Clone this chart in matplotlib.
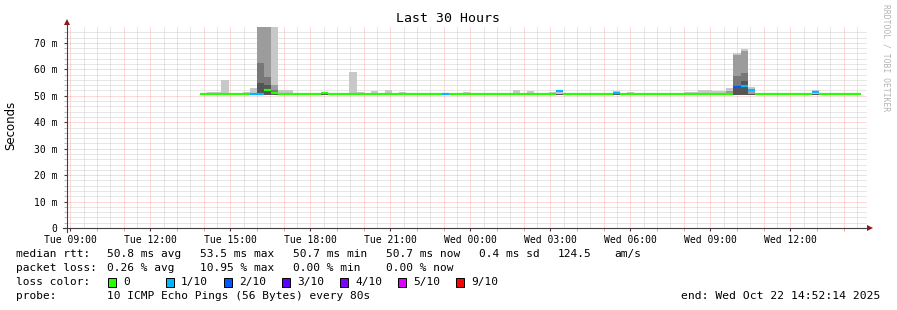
import numpy as np
import matplotlib
matplotlib.use("Agg")
import matplotlib.pyplot as plt

# x axis is hours since the graph start (Tue 08:52:14), 30 h wide
first_hour = 7.77 / 60          # Tue 09:00
bin_start = 4.99                # first consolidated row
bin_width = 16 / 60             # 12 x 80s steps
tick_labels = ["Tue 09:00", "Tue 12:00", "Tue 15:00", "Tue 18:00", "Tue 21:00",
               "Wed 00:00", "Wed 03:00", "Wed 06:00", "Wed 09:00", "Wed 12:00"]

# median rtt per row (ms)
median_rtt = [
    50.7, 50.7, 50.7, 50.7, 50.7, 50.7, 50.7, 50.7, 50.7, 52.3,
    51.2, 50.7, 50.7, 50.7, 50.7, 50.7, 50.7, 51.2, 50.7, 50.7,
    50.7, 50.7, 50.7, 50.7, 50.7, 50.7, 50.7, 50.7, 50.7, 50.7,
    50.7, 50.7, 50.7, 50.7, 50.7, 50.7, 50.7, 50.7, 50.7, 50.7,
    50.7, 50.7, 50.7, 50.7, 50.7, 50.7, 50.7, 50.7, 50.7, 50.7,
    51.9, 50.7, 50.7, 50.7, 50.7, 50.7, 50.7, 50.7, 50.9, 50.7,
    50.7, 50.7, 50.7, 50.7, 50.7, 50.7, 50.7, 50.7, 50.7, 50.7,
    50.7, 50.7, 50.7, 50.7, 50.7, 53.2, 53.8, 52.2, 50.7, 50.7,
    50.7, 50.7, 50.7, 50.7, 50.7, 50.7, 51.6, 50.7, 50.7, 50.7,
    50.7, 50.7, 50.7,
]
# rows with packet loss (tenths lost)
loss_rows = [7, 8, 34, 50, 58, 75, 76, 77, 86]
loss_tenths = [1, 1, 1, 1, 1, 2, 1, 1, 1]

# smoke: rows with spread and their upper ping values (ms)
smoke_rows = [1, 2, 3, 6, 7, 8, 9, 10, 11, 12, 17, 21, 22, 24, 26, 28, 37, 44, 46,
              49, 50, 58, 60, 68, 69, 70, 71, 72, 73, 74, 75, 76, 77, 86]
smoke_p10 = [51.5, 51.6, 56.0, 51.6, 53.0, 80, 80, 80, 52.2, 52.2, 51.4, 59.0, 51.6, 51.8,
             52.0, 51.4, 51.4, 52.2, 51.8, 51.4, 52.3, 51.8, 51.4, 51.4, 51.4, 52.2, 52.2,
             51.8, 51.8, 52.8, 66.3, 67.7, 53.5, 52.0]
smoke_p9 = [50.7, 50.7, 50.7, 50.7, 50.7, 80, 80, 54.0, 50.7, 50.7, 50.7, 50.7, 50.7, 50.7,
            50.7, 50.7, 50.7, 50.7, 50.7, 50.7, 50.7, 50.7, 50.7, 50.7, 50.7, 50.7, 50.7,
            50.7, 50.7, 51.8, 65.5, 67.0, 52.5, 50.7]
smoke_p8 = [50.7, 50.7, 50.7, 50.7, 50.7, 62.4, 57.0, 52.0, 50.7, 50.7, 50.7, 50.7, 50.7, 50.7,
            50.7, 50.7, 50.7, 50.7, 50.7, 50.7, 50.7, 50.7, 50.7, 50.7, 50.7, 50.7, 50.7,
            50.7, 50.7, 50.7, 57.5, 58.6, 50.7, 50.7]
smoke_p7 = [50.7, 50.7, 50.7, 50.7, 50.7, 55.0, 54.0, 50.7, 50.7, 50.7, 50.7, 50.7, 50.7, 50.7,
            50.7, 50.7, 50.7, 50.7, 50.7, 50.7, 50.7, 50.7, 50.7, 50.7, 50.7, 50.7, 50.7,
            50.7, 50.7, 50.7, 53.5, 55.7, 50.7, 50.7]
smoke_floor = 50.4

loss_names = ["0", "1/10", "2/10", "3/10", "4/10", "5/10", "9/10"]
loss_colors = ["#26ff00", "#00b8ff", "#0059ff", "#5e00ff", "#7e00ff", "#dd00ff", "#ff0000"]
smoke_colors = ["#c8c8c8", "#9c9c9c", "#787878", "#555555"]

W, H = 897, 310
MONO = "DejaVu Sans Mono"


def fx(x):
    return x / W


def fy(y):
    return 1 - y / H


fig = plt.figure(figsize=(W / 100, H / 100), dpi=100)
ax = fig.add_axes([fx(67), fy(228), 800 / W, 201 / H])
ax.set_xlim(0, 30)
ax.set_ylim(0, 76)
for s in ax.spines.values():
    s.set_visible(False)

# grid
hours = first_hour + np.arange(0, 30)
for h in hours:
    ax.axvline(h, color=(1, 0, 0, 0.3), lw=0.72, ls=(0, (1, 1)), zorder=0)
    if h + 0.5 < 30:
        ax.axvline(h + 0.5, color="#cfcfcf", lw=0.72, ls=(0, (1, 1)), zorder=0)
for v in range(2, 76, 2):
    if v % 10 == 0:
        ax.axhline(v, color=(1, 0, 0, 0.3), lw=0.72, ls=(0, (1, 1)), zorder=0)
    else:
        ax.axhline(v, color="#cfcfcf", lw=0.72, ls=(0, (1, 1)), zorder=0)

# smoke
left = bin_start + np.array(smoke_rows) * bin_width
for vals, col in zip([smoke_p10, smoke_p9, smoke_p8, smoke_p7], smoke_colors):
    ax.bar(left, np.array(vals) - smoke_floor, width=bin_width, bottom=smoke_floor,
           align="edge", color=col, linewidth=0, zorder=2)

# median coloured by loss
n = len(median_rtt)
row_left = bin_start + np.arange(n) * bin_width
row_col = [loss_colors[0]] * n
for r, t in zip(loss_rows, loss_tenths):
    row_col[r] = loss_colors[t]
ax.hlines(median_rtt, row_left, row_left + bin_width, colors=row_col, lw=1.6, zorder=3)

# ticks
ax.set_xticks(first_hour + 3 * np.arange(len(tick_labels)))
ax.set_xticklabels(tick_labels, fontsize=7, family=MONO)
ax.set_xticks(hours, minor=True)
ax.tick_params(axis="x", which="major", length=2, color="#404040", pad=3)
ax.tick_params(axis="x", which="minor", length=2, color=(1, 0, 0, 0.5))
ax.set_yticks(range(0, 71, 10))
ax.set_yticklabels(["0"] + [f"{v} m" for v in range(10, 71, 10)], fontsize=7, family=MONO)
ax.set_yticks(range(2, 76, 2), minor=True)
ax.tick_params(axis="y", which="major", length=2, color="#404040", pad=5)
ax.tick_params(axis="y", which="minor", length=2, color="#b0b0b0")

# axis lines with arrows
fig.add_artist(plt.Line2D([fx(63), fx(868)], [fy(228), fy(228)], color="#404040", lw=0.8))
fig.add_artist(plt.Line2D([fx(67), fx(67)], [fy(232), fy(24)], color="#404040", lw=0.8))
fig.add_artist(plt.Line2D([fx(870)], [fy(228)], marker=">", ms=4, color="#8b1a1a", mew=0))
fig.add_artist(plt.Line2D([fx(67)], [fy(22)], marker="^", ms=4, color="#8b1a1a", mew=0))

# titles
fig.text(fx(448), fy(19), "Last 30 Hours", ha="center", va="center", fontsize=9.5, family=MONO)
fig.text(fx(11), fy(125), "Seconds", ha="center", va="center", rotation=90, fontsize=8.5,
         family="DejaVu Sans")
fig.text(fx(886), fy(4), "RRDTOOL / TOBI OETIKER", ha="center", va="top", rotation=270,
         fontsize=5.8, family=MONO, color="#b4b4b4")

# legend block
lg = dict(fontsize=8, family=MONO, va="center")
row1 = [(16, "median rtt:"), (107, "50.8 ms avg"), (200, "53.5 ms max"), (293, "50.7 ms min"),
        (386, "50.7 ms now"), (479, "0.4 ms sd"), (558, "124.5"), (614, "am/s")]
row2 = [(16, "packet loss:"), (107, "0.26 % avg"), (200, "10.95 % max"), (293, "0.00 % min"),
        (386, "0.00 % now")]
for x, t in row1:
    fig.text(fx(x), fy(254), t, **lg)
for x, t in row2:
    fig.text(fx(x), fy(268), t, **lg)
fig.text(fx(16), fy(282), "loss color:", **lg)
for i, (name, col) in enumerate(zip(loss_names, loss_colors)):
    x0 = 108 + 58 * i
    fig.add_artist(plt.Rectangle((fx(x0), fy(287)), 8 / W, 9 / H, facecolor=col,
                                 edgecolor="black", lw=0.7))
    fig.text(fx(x0 + 15), fy(282), name, **lg)
fig.text(fx(16), fy(296), "probe:", **lg)
fig.text(fx(107), fy(296), "10 ICMP Echo Pings (56 Bytes) every 80s", **lg)
fig.text(fx(880), fy(296), "end: Wed Oct 22 14:52:14 2025", ha="right", fontsize=8.2,
         family=MONO, va="center")

fig.savefig("out.png", dpi=100)
